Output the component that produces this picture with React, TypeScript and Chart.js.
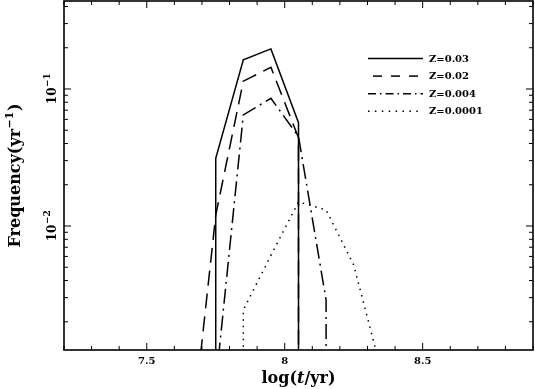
import React, { useEffect, useRef } from 'react';
import { Chart, registerables } from 'chart.js';

Chart.register(...registerables);

// Axis ranges
const xMin = 7.2;
const xMax = 8.9;
const yMin = 1.245e-3;
const yMax = 0.4385;

// Tick labels
const xTickValues = [7.5, 8, 8.5];
const xTickLabels = ['7.5', '8', '8.5'];
const yTickValues = [0.01, 0.1];
const yTickExponents = ['\u22122', '\u22121'];

// Series (1e-9 stands for a zero bin: the curve drops to the bottom)
const seriesNames = ['Z=0.03', 'Z=0.02', 'Z=0.004', 'Z=0.0001'];

const z003X = [7.75, 7.75, 7.85, 7.95, 8.05, 8.05];
const z003Y = [1e-9, 0.0312, 0.163, 0.196, 0.0568, 1e-9];

const z002X = [7.65, 7.75, 7.85, 7.95, 8.05, 8.05];
const z002Y = [1.7e-4, 0.012, 0.114, 0.144, 0.044, 1e-9];

const z0004X = [7.75, 7.85, 7.95, 8.05, 8.15, 8.15];
const z0004Y = [7e-4, 0.0646, 0.0855, 0.045, 0.00288, 1e-9];

const z00001X = [7.85, 7.85, 7.95, 8.05, 8.15, 8.25, 8.35];
const z00001Y = [1e-9, 0.00244, 0.0061, 0.015, 0.0131, 0.0052, 8.8e-4];

const plotDashes = [[], [15, 8], [15, 5, 2, 5], [1.5, 5]];
const legendDashes = [[], [9, 9], [8, 4, 1.5, 4], [1.5, 5.4]];
const legendDashOffsets = [0, 13, 0, 0];

const SERIF = '"DejaVu Serif", "Liberation Serif", serif';

function toPoints(xs: number[], ys: number[]) {
  return xs.map((x, i) => ({ x, y: ys[i] }));
}

const decorPlugin = {
  id: 'decor',
  afterDatasetsDraw(chart: any) {
    const { ctx, chartArea: ca, scales } = chart;
    const xs = scales.x;
    const ys = scales.y;
    ctx.save();
    ctx.strokeStyle = '#000';
    ctx.fillStyle = '#000';
    ctx.setLineDash([]);

    const seg = (x0: number, y0: number, x1: number, y1: number) => {
      ctx.beginPath();
      ctx.moveTo(x0, y0);
      ctx.lineTo(x1, y1);
      ctx.stroke();
    };

    // frame
    ctx.lineWidth = 1.6;
    ctx.strokeRect(ca.left, ca.top, ca.right - ca.left, ca.bottom - ca.top);

    // x ticks (inward, bottom and top)
    ctx.lineWidth = 1;
    const nX = Math.round((xMax - xMin) / 0.1);
    for (let i = 0; i <= nX; i++) {
      const v = xMin + i * 0.1;
      const px = xs.getPixelForValue(v);
      const major = xTickValues.some((t) => Math.abs(t - v) < 1e-6);
      const len = major ? 7 : 4;
      seg(px, ca.bottom, px, ca.bottom - len);
      seg(px, ca.top, px, ca.top + len);
    }

    // y ticks (inward, left and right)
    for (let e = -3; e <= 0; e++) {
      for (let m = 1; m <= 9; m++) {
        const v = m * Math.pow(10, e);
        if (v < yMin || v > yMax) continue;
        const py = ys.getPixelForValue(v);
        const len = m === 1 ? 7 : 4;
        seg(ca.left, py, ca.left + len, py);
        seg(ca.right, py, ca.right - len, py);
      }
    }

    // y tick labels (rotated, 10^n)
    yTickValues.forEach((v, i) => {
      const py = ys.getPixelForValue(v);
      ctx.save();
      ctx.translate(ca.left - 8, py);
      ctx.rotate(-Math.PI / 2);
      ctx.textAlign = 'left';
      ctx.textBaseline = 'alphabetic';
      ctx.font = `bold 12px ${SERIF}`;
      const w1 = ctx.measureText('10').width;
      ctx.font = `bold 9px ${SERIF}`;
      const w2 = ctx.measureText(yTickExponents[i]).width;
      const x0 = -(w1 + w2) / 2;
      ctx.font = `bold 12px ${SERIF}`;
      ctx.fillText('10', x0, 0);
      ctx.font = `bold 9px ${SERIF}`;
      ctx.fillText(yTickExponents[i], x0 + w1 + 0.5, -6.5);
      ctx.restore();
    });

    // y title
    ctx.save();
    ctx.translate(20, (ca.top + ca.bottom) / 2);
    ctx.rotate(-Math.PI / 2);
    ctx.textAlign = 'left';
    ctx.textBaseline = 'alphabetic';
    const big = `bold 16px ${SERIF}`;
    const small = `bold 11px ${SERIF}`;
    ctx.font = big;
    const a = 'Frequency(yr';
    const wa = ctx.measureText(a).width;
    const wc = ctx.measureText(')').width;
    ctx.font = small;
    const b = '\u22121';
    const wb = ctx.measureText(b).width;
    const x0 = -(wa + wb + wc + 1) / 2;
    ctx.font = big;
    ctx.fillText(a, x0, 0);
    ctx.font = small;
    ctx.fillText(b, x0 + wa + 0.5, -7);
    ctx.font = big;
    ctx.fillText(')', x0 + wa + wb + 1, 0);
    ctx.restore();

    // x title: log(t/yr) with italic t
    ctx.save();
    ctx.textAlign = 'left';
    ctx.textBaseline = 'alphabetic';
    const fN = `bold 16px ${SERIF}`;
    const fI = `bold italic 16px ${SERIF}`;
    const parts: [string, string][] = [['log(', fN], ['t', fI], ['/yr)', fN]];
    let tot = 0;
    const ws = parts.map(([t, f]) => {
      ctx.font = f;
      const w = ctx.measureText(t).width;
      tot += w;
      return w;
    });
    let cx = (ca.left + ca.right) / 2 - tot / 2;
    parts.forEach(([t, f], i) => {
      ctx.font = f;
      ctx.fillText(t, cx, 383);
      cx += ws[i];
    });
    ctx.restore();

    // legend
    const lx0 = ca.left + 304;
    const lx1 = lx0 + 55;
    const tx = lx1 + 6;
    seriesNames.forEach((name, i) => {
      const y = ca.top + 57.5 + i * 17.6;
      ctx.lineWidth = 1.5;
      ctx.setLineDash(legendDashes[i]);
      ctx.lineDashOffset = legendDashOffsets[i];
      seg(lx0, y, lx1, y);
      ctx.setLineDash([]);
      ctx.lineDashOffset = 0;
      ctx.font = `bold 10px ${SERIF}`;
      ctx.textAlign = 'left';
      ctx.textBaseline = 'middle';
      ctx.fillText(name, tx, y + 0.5);
    });

    ctx.restore();
  },
};

export default function App() {
  const canvasRef = useRef<HTMLCanvasElement | null>(null);

  useEffect(() => {
    document.body.style.margin = '0';
    const canvas = canvasRef.current;
    if (!canvas) return;
    const seriesX = [z003X, z002X, z0004X, z00001X];
    const seriesY = [z003Y, z002Y, z0004Y, z00001Y];
    const chart = new Chart(canvas, {
      type: 'line',
      data: {
        datasets: seriesNames.map((name, i) => ({
          label: name,
          data: toPoints(seriesX[i], seriesY[i]),
          borderColor: '#000',
          backgroundColor: '#000',
          borderWidth: 1.5,
          borderDash: plotDashes[i],
          borderCapStyle: 'butt',
          borderJoinStyle: 'miter',
          pointRadius: 0,
          fill: false,
          tension: 0,
        })),
      },
      options: {
        responsive: false,
        animation: false,
        devicePixelRatio: 1,
        layout: { padding: { top: 1, right: 2, left: 0, bottom: 0 } },
        plugins: {
          legend: { display: false },
          tooltip: { enabled: false },
        },
        scales: {
          x: {
            type: 'linear',
            min: xMin,
            max: xMax,
            grid: { display: false, drawTicks: false },
            border: { display: false },
            afterBuildTicks: (s: any) => {
              s.ticks = xTickValues.map((v) => ({ value: v }));
            },
            ticks: {
              callback: (_v: any, i: number) => xTickLabels[i],
              color: '#000',
              font: { family: SERIF, size: 10, weight: 'bold' },
              padding: 5,
              maxRotation: 0,
              autoSkip: false,
            },
            afterFit: (s: any) => {
              s.height = 39;
            },
          },
          y: {
            type: 'logarithmic',
            min: yMin,
            max: yMax,
            grid: { display: false, drawTicks: false },
            border: { display: false },
            ticks: { display: false },
            afterFit: (s: any) => {
              s.width = 64;
            },
          },
        },
      } as any,
      plugins: [decorPlugin],
    });
    return () => chart.destroy();
  }, []);

  return (
    <div style={{ position: 'absolute', left: 0, top: 0, width: 535, height: 389, background: '#fff' }}>
      <canvas ref={canvasRef} width={535} height={389} style={{ width: 535, height: 389, display: 'block' }} />
    </div>
  );
}
